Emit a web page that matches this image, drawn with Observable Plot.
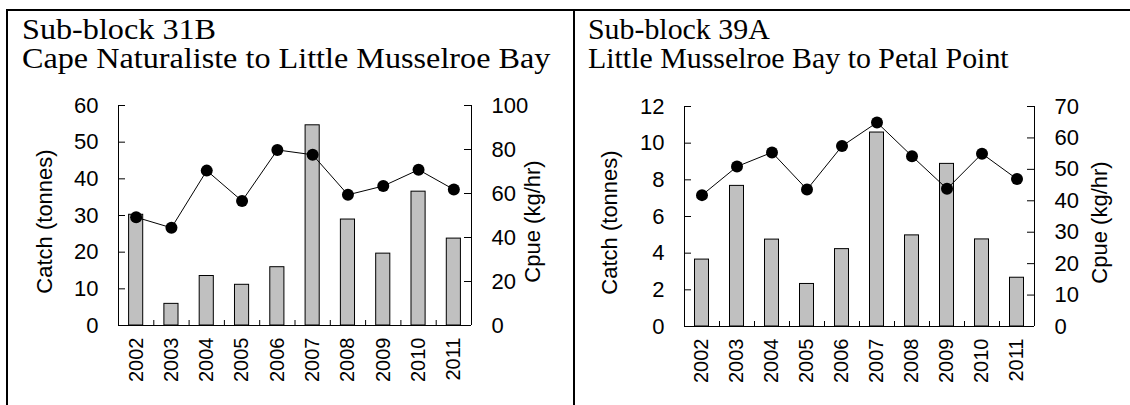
<!DOCTYPE html>
<html><head><meta charset="utf-8">
<script src="https://cdn.jsdelivr.net/npm/d3@7"></script>
<script src="https://cdn.jsdelivr.net/npm/@observablehq/plot@0.6"></script>
<style>
html,body{margin:0;padding:0;background:#fff;width:1130px;height:405px;overflow:hidden;}
#frame{position:absolute;left:6px;top:9px;width:1140px;height:420px;border-top:2px solid #000;border-left:2px solid #000;box-sizing:border-box;}
#divider{position:absolute;left:573px;top:9px;width:2px;height:400px;background:#000;}
.title{position:absolute;font-family:"Liberation Serif","Times New Roman",serif;font-size:29px;line-height:29px;color:#000;white-space:nowrap;transform-origin:0 0;}
.layer{position:absolute;top:0;}
</style></head><body>
<div id="frame"></div>
<div id="p1"></div>
<div id="p2"></div>
<div id="divider"></div>
<div class="title" id="t1" style="left:22px;top:15px;transform:scaleX(1.11)"></div>
<div class="title" id="t2" style="left:588px;top:15px;transform:scaleX(1.03)"></div>
<script>
const years = [2002, 2003, 2004, 2005, 2006, 2007, 2008, 2009, 2010, 2011];

const title31B = ["Sub-block 31B", "Cape Naturaliste to Little Musselroe Bay"];
const catch31B = [30.2, 5.9, 13.5, 11.1, 15.9, 54.6, 28.9, 19.6, 36.5, 23.7];
const cpue31B = [49.2, 44.4, 70.4, 56.6, 79.8, 77.6, 59.4, 63.4, 70.8, 61.8];
const catchTicks31B = [0, 10, 20, 30, 40, 50, 60];
const cpueTicks31B = [0, 20, 40, 60, 80, 100];

const title39A = ["Sub-block 39A", "Little Musselroe Bay to Petal Point"];
const catch39A = [3.65, 7.67, 4.74, 2.32, 4.22, 10.58, 4.97, 8.87, 4.75, 2.66];
const cpue39A = [41.8, 50.9, 55.4, 43.6, 57.4, 64.9, 54.2, 43.8, 55.0, 46.9];
const catchTicks39A = [0, 2, 4, 6, 8, 10, 12];
const cpueTicks39A = [0, 10, 20, 30, 40, 50, 60, 70];

const catchLabel = "Catch (tonnes)";
const cpueLabel = "Cpue (kg/hr)";

function panel(host, o) {
  const rows = years.map((y, i) => ({year: y, catch: o.catchVals[i], cpue: o.cpueVals[i]}));
  const xDomain = [years[0] - 0.5, years[years.length - 1] + 0.5];
  const boundaries = years.slice(1).map(y => y - 0.5);
  const plotW = o.width - o.mL - o.mR;
  const plotH = 405 - o.mT - o.mB;
  const style = {fontFamily: "'Liberation Sans', Arial, sans-serif", fontSize: "22px", color: "#000", background: "none", overflow: "visible"};
  const common = {width: o.width, height: 405, marginLeft: o.mL, marginRight: o.mR, marginTop: o.mT, marginBottom: o.mB, style};

  const a = Plot.plot({
    ...common,
    x: {type: "linear", domain: xDomain},
    y: {domain: [0, d3.max(o.catchTicks)]},
    marks: [
      Plot.rectY(rows, {x1: d => d.year - 0.2, x2: d => d.year + 0.2, y: "catch", fill: "#c0c0c0", stroke: "#000", strokeWidth: 1}),
      Plot.ruleX(boundaries, {insetTop: plotH - 5, stroke: "#000"}),
      Plot.ruleY(o.catchTicks.slice(1), {insetRight: plotW - 7, stroke: "#000"}),
      Plot.axisY({ticks: o.catchTicks, tickSize: 0, tickPadding: 20, fontSize: 22, label: null}),
      Plot.axisX({ticks: years, tickSize: 0, tickRotate: -90, tickPadding: 12, tickFormat: d => String(d), fontSize: 20, label: null}),
      Plot.ruleX([xDomain[0]], {stroke: "#000"}),
      Plot.ruleY([0], {stroke: "#000"}),
      Plot.text([catchLabel], {frameAnchor: "left", textAnchor: "middle", rotate: -90, dx: o.leftDx, dy: 6, fontSize: 22})
    ]
  });
  const b = Plot.plot({
    ...common,
    x: {type: "linear", domain: xDomain, axis: null},
    y: {domain: [0, d3.max(o.cpueTicks)]},
    marks: [
      Plot.line(rows, {x: "year", y: "cpue", stroke: "#000", strokeWidth: 1}),
      Plot.dot(rows, {x: "year", y: "cpue", r: 6, fill: "#000", stroke: "none"}),
      Plot.ruleY(o.cpueTicks.slice(1), {insetLeft: plotW - 7, stroke: "#000"}),
      Plot.axisY({anchor: "right", ticks: o.cpueTicks, tickSize: 0, tickPadding: 20, fontSize: 22, label: null}),
      Plot.ruleX([xDomain[1]], {stroke: "#000"}),
      Plot.text([cpueLabel], {frameAnchor: "right", textAnchor: "middle", rotate: -90, dx: o.rightDx, dy: 6, fontSize: 22})
    ]
  });
  for (const svg of [a, b]) {
    svg.classList.add("layer");
    svg.style.position = "absolute";
    svg.style.left = o.left + "px";
    svg.style.top = "0px";
    host.appendChild(svg);
  }
}

panel(document.getElementById("p1"), {left: 0, width: 570, mL: 118, mR: 99, mT: 105, mB: 80,
  catchVals: catch31B, cpueVals: cpue31B, catchTicks: catchTicks31B, cpueTicks: cpueTicks31B, leftDx: -74, rightDx: 61});
panel(document.getElementById("p2"), {left: 566, width: 564, mL: 118, mR: 96, mT: 106, mB: 79,
  catchVals: catch39A, cpueVals: cpue39A, catchTicks: catchTicks39A, cpueTicks: cpueTicks39A, leftDx: -75, rightDx: 65});

document.getElementById("t1").innerHTML = title31B.join("<br>");
document.getElementById("t2").innerHTML = title39A.join("<br>");
</script>
</body></html>
